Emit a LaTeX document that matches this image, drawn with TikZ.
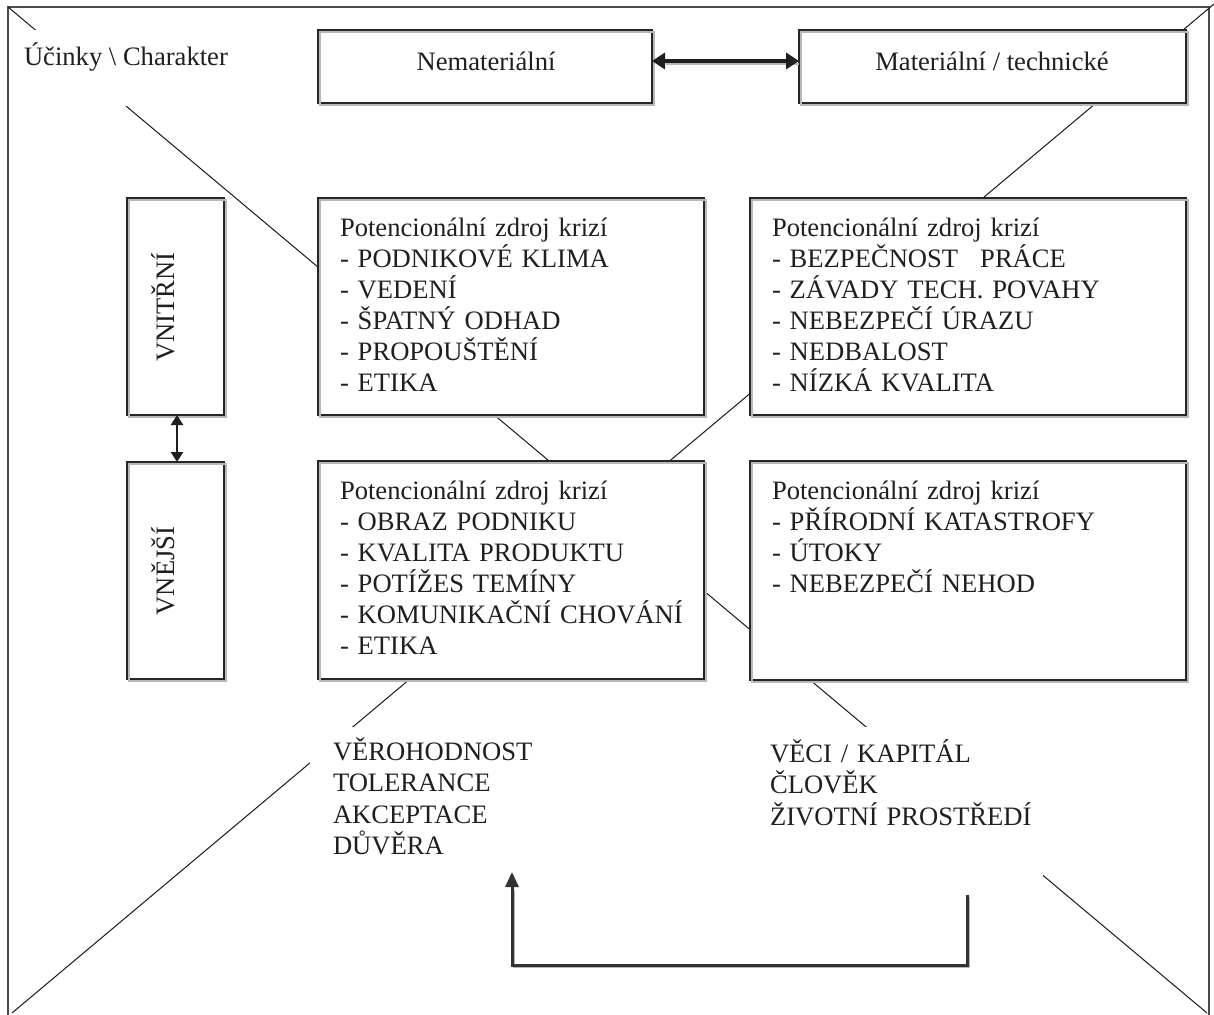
\documentclass[tikz,border=0pt]{standalone}
\usepackage{fontspec}
\setmainfont{Liberation Serif}
\usetikzlibrary{arrows.meta}

\begin{document}
\begin{tikzpicture}[x=1pt, y=-1pt,
  every node/.style={inner sep=0pt, outer sep=0pt},
  txt/.style={font=\fontsize{26.6pt}{31pt}\selectfont, text=black!88},
  listtxt/.style={txt, align=left, text width=400pt, anchor=base west},
  frameline/.style={draw=black!70, line width=1.6pt},
  diag/.style={draw=black!90, line width=1pt},
  box/.style={draw=black!85, line width=2pt, fill=white, anchor=north west},
  boxshade/.style={draw=black!28, line width=1.6pt},
  pad/.style={fill=white, anchor=north west},
  dblarrow/.style={draw=black!88, line width=3.5pt,
    {Triangle[length=13pt,width=16pt]}-{Triangle[length=13pt,width=16pt]}},
  dblsmall/.style={draw=black!88, line width=2.5pt,
    {Triangle[length=10pt,width=12pt]}-{Triangle[length=10pt,width=12pt]}},
  fbarrow/.style={draw=black!80, line width=3pt, -{Triangle[length=15pt,width=13pt]}},
  fbshade/.style={draw=black!28, line width=1.6pt}
]
\useasboundingbox (0,0) rectangle (1214,1014);

% outer frame and the two corner-to-corner diagonals
\draw[frameline] (8,1030) -- (8,7) -- (1209,7) -- (1209,1030);
\coordinate (cornerTL) at (8,7);
\coordinate (cornerBR) at (1207,1013);
\coordinate (cornerTR) at (1214,4);
\coordinate (cornerBL) at (12,1013);
\draw[diag] (cornerTL) -- (cornerBR);
\draw[diag] (cornerTR) -- (cornerBL);

% corner caption
\node[pad, minimum width=224pt, minimum height=76pt] (charpad) at (12,30) {};
\node[txt, anchor=base west] (charlbl) at (24,66) {Účinky \textbackslash{} Charakter};

% column headers
\node[box, minimum width=334pt, minimum height=73pt] (nemat) at (318,30) {};
\node[box, minimum width=387pt, minimum height=73pt] (mater) at (799,30) {};
\node[txt, anchor=base] (nemattxt) at (486,71) {Nemateriální};
\node[txt, anchor=base] (matertxt) at (992,71) {Materiální / technické};

% row headers
\node[box, minimum width=97pt, minimum height=217pt] (vnitr) at (127,198) {};
\node[box, minimum width=97pt, minimum height=217pt] (vnejsi) at (127,462) {};
\node[txt, rotate=90, anchor=base] (vnitrtxt) at (174,307) {VNITŘNÍ};
\node[txt, rotate=90, anchor=base] (vnejsitxt) at (174,571) {VNĚJŠÍ};

% the four quadrants
\node[box, minimum width=386pt, minimum height=217pt] (tl) at (318,198) {};
\node[box, minimum width=436pt, minimum height=217pt] (tr) at (750,198) {};
\node[box, minimum width=386pt, minimum height=218pt] (bl) at (318,461) {};
\node[box, minimum width=436pt, minimum height=219pt] (br) at (750,461) {};

\foreach \b in {nemat,mater,vnitr,vnejsi,tl,tr,bl,br}
  \draw[boxshade] ([shift={(2pt,-2pt)}]\b.north west) rectangle ([shift={(2pt,-2pt)}]\b.south east);

\node[listtxt] (tltxt) at (340,236) {Potencionální zdroj krizí\\- PODNIKOVÉ KLIMA\\- VEDENÍ\\- ŠPATNÝ ODHAD\\- PROPOUŠTĚNÍ\\- ETIKA};
\node[listtxt] (trtxt) at (772,236) {Potencionální zdroj krizí\\- BEZPEČNOST\hspace{22pt}PRÁCE\\- ZÁVADY TECH. POVAHY\\- NEBEZPEČÍ ÚRAZU\\- NEDBALOST\\- NÍZKÁ KVALITA};
\node[listtxt] (bltxt) at (340,499) {Potencionální zdroj krizí\\- OBRAZ PODNIKU\\- KVALITA PRODUKTU\\- POTÍŽES TEMÍNY\\- KOMUNIKAČNÍ CHOVÁNÍ\\- ETIKA};
\node[listtxt] (brtxt) at (772,499) {Potencionální zdroj krizí\\- PŘÍRODNÍ KATASTROFY\\- ÚTOKY\\- NEBEZPEČÍ NEHOD};

% affected values below the quadrants
\node[pad, minimum width=250pt, minimum height=145pt] (leftpad) at (310,727) {};
\node[pad, minimum width=293pt, minimum height=168pt] (rightpad) at (750,727) {};
\node[listtxt, font=\fontsize{26.6pt}{31.6pt}\selectfont] (trust) at (333,760) {VĚROHODNOST\\TOLERANCE\\AKCEPTACE\\DŮVĚRA};
\node[listtxt, font=\fontsize{26.6pt}{31.5pt}\selectfont] (assets) at (770,762) {VĚCI / KAPITÁL\\ČLOVĚK\\ŽIVOTNÍ PROSTŘEDÍ};

% connectors
\draw[boxshade, line width=1.5pt] ([yshift=2.5pt]nemat.east) ++(14pt,0) -- ([yshift=2.5pt]mater.west);
\draw[dblarrow] ([yshift=5.5pt]nemat.east) -- ([yshift=5.5pt]mater.west);
\draw[dblsmall] ([xshift=1.5pt]vnitr.south) -- ([xshift=1.5pt]vnejsi.north);

\coordinate (fbstart) at (967,895);
\coordinate (fbend) at (512,872);
\coordinate (fbfloor) at (0,965);
\draw[fbshade, transform canvas={shift={(2pt,-2pt)}}] (fbstart) -- (fbstart |- fbfloor) -- (fbend |- fbfloor) -- ([yshift=-16pt]fbend);
\draw[fbarrow] (fbstart) -- (fbstart |- fbfloor) -- (fbend |- fbfloor) -- (fbend);
\end{tikzpicture}
\end{document}
